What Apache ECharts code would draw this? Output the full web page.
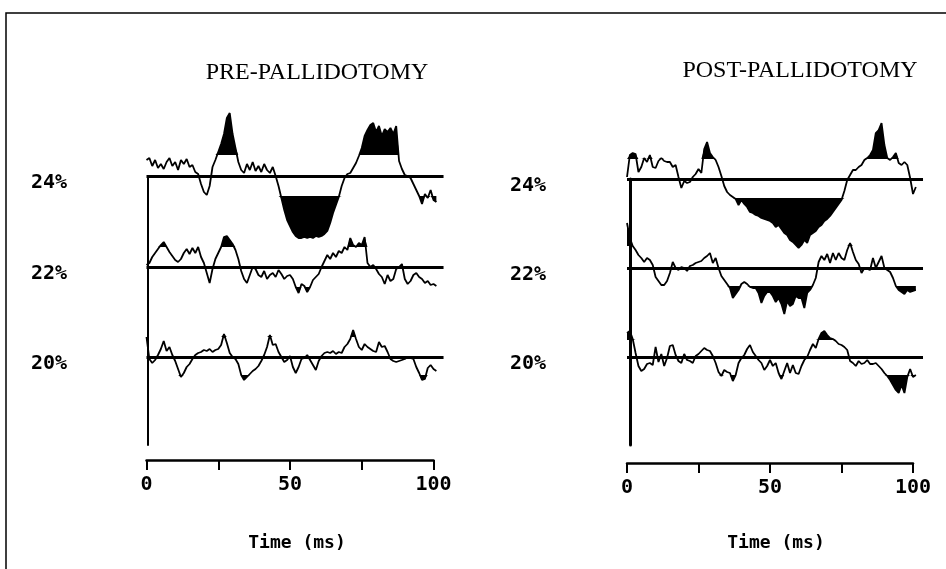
<!DOCTYPE html>
<html>
<head>
<meta charset="utf-8">
<title>Pre / post pallidotomy</title>
<script src="https://cdn.jsdelivr.net/npm/echarts@6/dist/echarts.min.js"></script>
<style>
  html, body { margin: 0; padding: 0; background: #fff; }
  #chart { width: 946px; height: 569px; }
</style>
</head>
<body>
<div id="chart"></div>
<script>
// sample clock, 1 ms per sample
const times = [0,1,2,3,4,5,6,7,8,9,10,11,12,13,14,15,16,17,18,19,20,21,22,23,24,25,26,27,28,29,
  30,31,32,33,34,35,36,37,38,39,40,41,42,43,44,45,46,47,48,49,50,51,52,53,54,55,56,57,58,59,
  60,61,62,63,64,65,66,67,68,69,70,71,72,73,74,75,76,77,78,79,80,81,82,83,84,85,86,87,88,89,
  90,91,92,93,94,95,96,97,98,99,100,101]

const levelLabels = ['24%', '22%', '20%']
const timeTicks = [0, 50, 100]

// deviation from each baseline (arbitrary units, up = positive)
const pre24 = [16,18,10,16,8,12,7,14,18,10, 14,6,16,12,17,9,11,4,2,-8,
  -16,-19,-10,9,16,24,32,42,58,63, 42,28,14,6,3,12,6,14,5,10,
  4,12,6,3,9,0,-10,-22,-34,-44, -50,-56,-60,-62,-62,-61,-62,-61,-62,-60,
  -61,-60,-58,-55,-47,-37,-29,-21,-10,-2, 2,3,8,13,20,28,40,46,51,53,
  44,50,40,47,44,48,42,50,15,7, 1,0,-2,-8,-14,-20,-28,-18,-22,-14, -24,-26]
const pre22 = [2,4,10,14,18,22,25,20,15,11, 7,5,8,14,18,13,19,14,20,10,
  4,-6,-16,-2,8,14,20,30,31,27, 23,17,8,-4,-12,-16,-8,0,-2,-8,
  -10,-4,-12,-8,-6,-10,-3,-7,-12,-9, -8,-12,-20,-26,-17,-19,-25,-20,-13,-10,
  -7,0,6,12,8,14,10,16,14,20, 17,29,22,20,24,22,30,4,0,2,
  -2,-7,-10,-17,-8,-14,-12,-2,0,3, -12,-17,-14,-8,-6,-10,-12,-16,-14,-18, -17,-19]
const pre20 = [20,-2,-6,-3,2,8,16,6,10,2, -4,-12,-20,-16,-10,-7,-2,2,4,5,
  7,6,8,5,7,8,12,23,14,4, 0,-2,-7,-18,-23,-20,-17,-14,-12,-9,
  -4,2,10,22,12,13,5,0,-5,-3, 1,-10,-16,-10,-2,-1,2,-3,-8,-13,
  -4,1,4,5,4,6,3,5,4,10, 13,18,27,18,10,7,13,10,8,6,
  5,15,10,11,5,-2,-4,-5,-4,-3, -2,0,-1,-2,-10,-16,-23,-22,-11,-8, -12,-14]
const post24 = [2,24,26,25,7,12,21,17,24,12, 11,18,21,18,17,17,12,14,2,-9,
  -2,-4,-3,2,5,10,6,30,37,26, 22,19,12,3,-7,-13,-16,-18,-20,-26,
  -21,-25,-28,-33,-34,-36,-37,-39,-40,-41, -42,-44,-48,-46,-50,-54,-56,-61,-63,-66,
  -69,-66,-61,-64,-56,-54,-52,-48,-46,-42, -40,-37,-33,-29,-25,-21,-12,-1,4,9,
  9,12,14,19,21,24,29,46,49,56, 34,21,19,22,26,16,14,17,14,1, -15,-8]
const post22 = [45,30,22,18,13,10,6,10,8,3, -9,-13,-17,-17,-13,-5,6,0,-2,1,
  0,-3,2,3,5,6,7,10,12,15, 5,10,0,-8,-12,-16,-20,-30,-26,-22,
  -16,-14,-16,-19,-20,-20,-25,-35,-28,-24, -24,-28,-34,-30,-36,-46,-33,-38,-36,-28,
  -30,-30,-40,-25,-22,-17,-10,6,12,8, 14,5,15,8,15,10,8,18,25,16,
  8,4,-5,0,-1,-2,10,0,6,12, 0,-2,-4,-10,-18,-22,-24,-26,-22,-24, -23,-22]
const post20 = [24,26,18,4,-9,-14,-12,-7,-6,-8, 10,-5,3,-9,-1,11,12,2,-4,-6,
  3,-3,-4,-6,1,3,6,9,7,6, 1,-6,-15,-19,-13,-15,-16,-24,-18,-6,
  -1,2,8,12,5,1,-3,-6,-13,-9, -3,-9,-6,-16,-22,-14,-6,-16,-8,-16,
  -17,-9,-3,0,7,13,9,18,24,26, 22,19,18,16,13,12,10,7,-4,-6,
  -9,-4,-7,-6,-3,-7,-7,-6,-9,-12, -16,-19,-23,-28,-33,-36,-28,-36,-20,-12, -20,-18]

// fill thresholds (24%, 22%, 20%)
const preUpper = [21, 20, 20]
const preLower = [-20, -20, -18]
const postUpper = [20, 22, 17]
const postLower = [-19, -18, -18]

const panels = [
  { name: 'PRE-PALLIDOTOMY', traces: [pre24, pre22, pre20], upper: preUpper, lower: preLower,
    x0: 146.5, pxPerMs: 2.87, baseY: [176, 267, 357], axisY: 460, frameX: 148, frameW: 2,
    titleX: 317, titleY: 73, labelX: 49, timeX: 297 },
  { name: 'POST-PALLIDOTOMY', traces: [post24, post22, post20], upper: postUpper, lower: postLower,
    x0: 627, pxPerMs: 2.86, baseY: [179, 268, 357], axisY: 463, frameX: 630, frameW: 3,
    titleX: 800, titleY: 71, labelX: 528, timeX: 776 }
]

const labelFont = 'bold 20px "DejaVu Sans Mono", monospace'
const grid = [], xAxis = [], yAxis = [], series = [], graphic = []
const HALF = 70

panels.forEach(p => {
  const traceW = p.pxPerMs * 103.5

  p.traces.forEach((vals, k) => {
    const g = grid.length
    grid.push({ left: p.x0, top: p.baseY[k] - HALF, width: traceW, height: HALF * 2 })
    xAxis.push({ gridIndex: g, type: 'value', min: 0, max: 103.5, show: false })
    yAxis.push({ gridIndex: g, type: 'value', min: -HALF, max: HALF, show: false })

    const up = p.upper[k], lo = p.lower[k]
    // black fill between threshold and trace where the trace is beyond it
    series.push({
      type: 'line', xAxisIndex: g, yAxisIndex: g, silent: true, symbol: 'none',
      data: times.map((t, i) => [t, Math.max(vals[i], up)]),
      lineStyle: { width: 0 },
      areaStyle: { color: '#000', opacity: 1, origin: up }
    })
    series.push({
      type: 'line', xAxisIndex: g, yAxisIndex: g, silent: true, symbol: 'none',
      data: times.map((t, i) => [t, Math.min(vals[i], lo)]),
      lineStyle: { width: 0 },
      areaStyle: { color: '#000', opacity: 1, origin: lo }
    })
    series.push({
      type: 'line', xAxisIndex: g, yAxisIndex: g, silent: true, symbol: 'none',
      data: times.map((t, i) => [t, vals[i]]),
      lineStyle: { color: '#000', width: 1.8 },
      markLine: {
        silent: true, symbol: 'none', label: { show: false },
        lineStyle: { color: '#000', width: 3, type: 'solid' },
        data: [{ yAxis: 0 }]
      }
    })

    graphic.push({
      type: 'text', x: p.labelX, y: p.baseY[k] + 7,
      style: { text: levelLabels[k], font: labelFont, fill: '#000', align: 'center', verticalAlign: 'middle' }
    })
  })

  // vertical line joining the traces
  const fg = grid.length
  grid.push({ left: p.frameX, top: p.baseY[0], width: traceW - (p.frameX - p.x0), height: 445 - p.baseY[0] })
  xAxis.push({ gridIndex: fg, type: 'value', min: 0, max: 100, show: false })
  yAxis.push({
    gridIndex: fg, type: 'value', min: 0, max: 1,
    axisLine: { show: true, lineStyle: { color: '#000', width: p.frameW } },
    axisTick: { show: false }, axisLabel: { show: false }, splitLine: { show: false }
  })
  series.push({ type: 'line', xAxisIndex: fg, yAxisIndex: fg, data: [], silent: true })

  // time axis
  const tg = grid.length
  grid.push({ left: p.x0, top: p.axisY - 20, width: p.pxPerMs * 100, height: 20 })
  xAxis.push({
    gridIndex: tg, type: 'value', min: 0, max: 100, interval: 25, position: 'bottom',
    axisLine: { show: true, onZero: false, lineStyle: { color: '#000', width: 2.5 } },
    axisTick: { show: true, length: 10, lineStyle: { color: '#000', width: 2 } },
    axisLabel: {
      margin: 15, color: '#000', fontFamily: '"DejaVu Sans Mono", monospace', fontWeight: 'bold', fontSize: 20,
      formatter: v => (timeTicks.indexOf(v) >= 0 ? String(v) : '')
    },
    splitLine: { show: false }
  })
  yAxis.push({ gridIndex: tg, type: 'value', min: 0, max: 1, show: false })
  series.push({ type: 'line', xAxisIndex: tg, yAxisIndex: tg, data: [], silent: true })

  graphic.push({
    type: 'text', x: p.titleX, y: p.titleY,
    style: { text: p.name, font: '24px "Liberation Serif", serif', fill: '#000', align: 'center', verticalAlign: 'middle' }
  })
  graphic.push({
    type: 'text', x: p.timeX, y: 543,
    style: { text: 'Time (ms)', font: 'bold 18px "DejaVu Sans Mono", monospace', fill: '#000', align: 'center', verticalAlign: 'middle' }
  })
})

// page frame
graphic.push({
  type: 'rect', shape: { x: 6, y: 13, width: 960, height: 600 },
  style: { fill: 'none', stroke: '#000', lineWidth: 1.5 }, silent: true
})

const chart = echarts.init(document.getElementById('chart'), null, { renderer: 'canvas' })
chart.setOption({
  animation: false,
  backgroundColor: '#fff',
  grid, xAxis, yAxis, series, graphic
})
</script>
</body>
</html>
